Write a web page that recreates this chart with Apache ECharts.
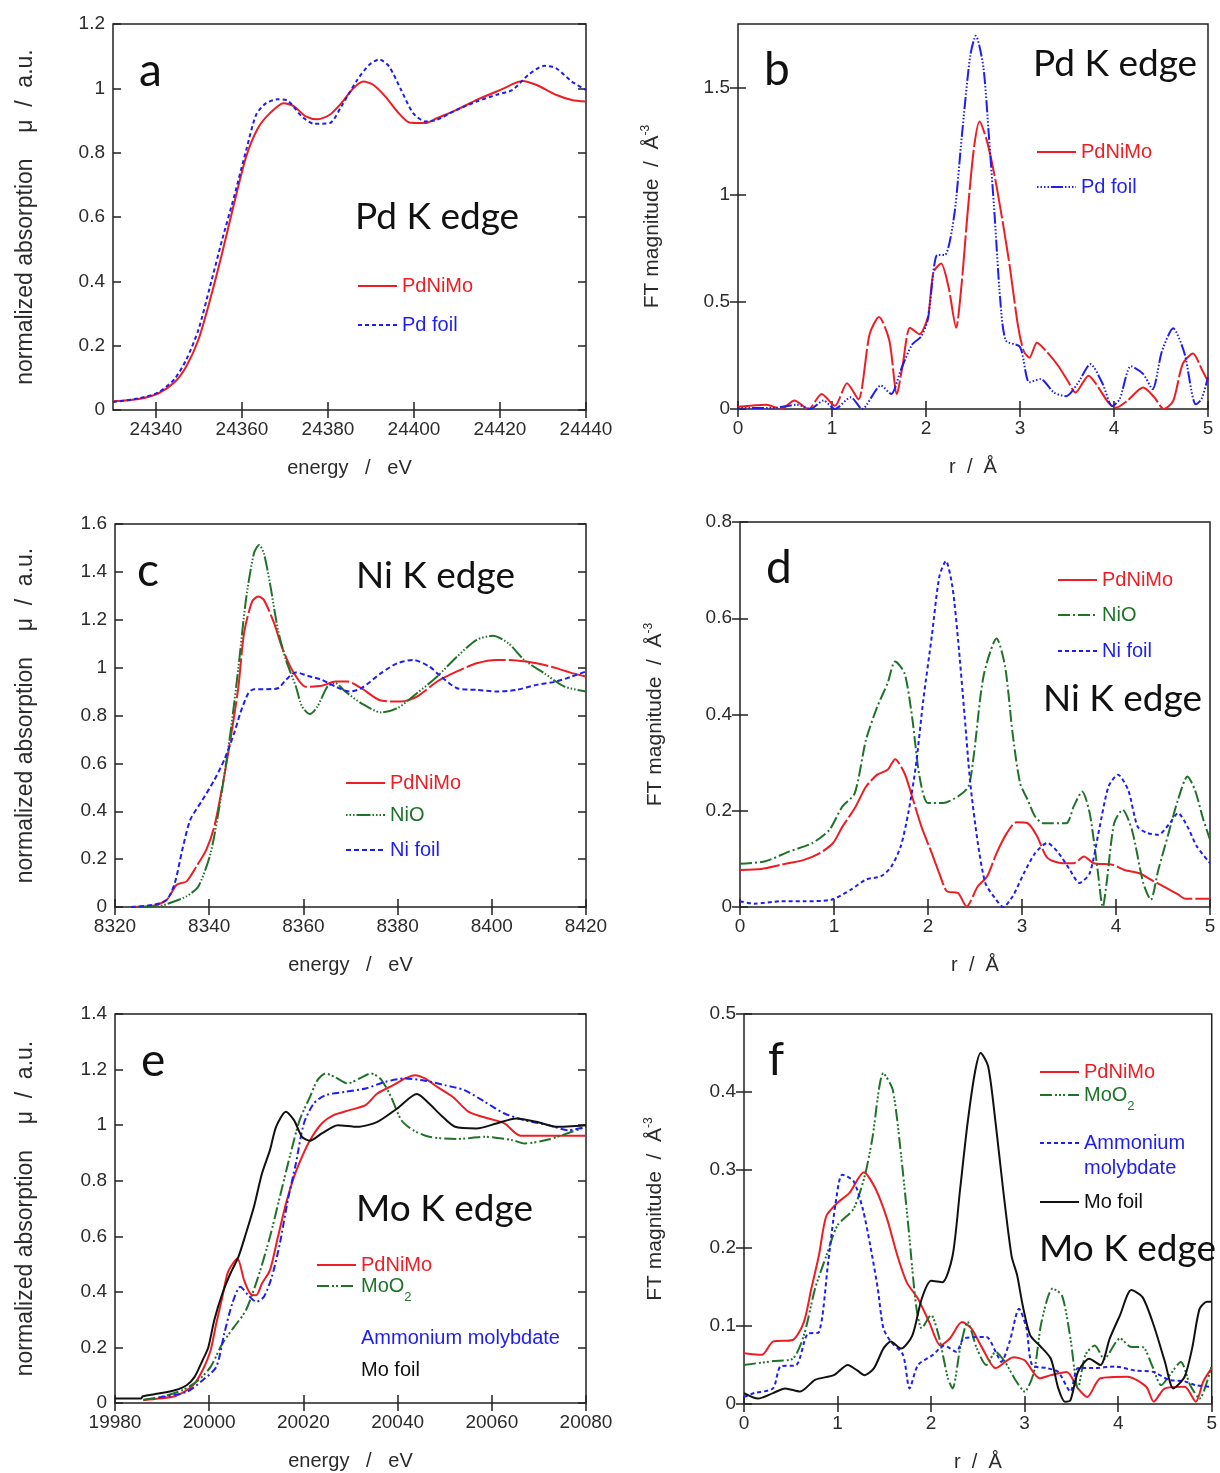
<!DOCTYPE html>
<html>
<head>
<meta charset="utf-8">
<title>Pd / Ni / Mo K edge XANES and FT</title>
<script src="https://cdn.jsdelivr.net/npm/echarts@6/dist/echarts.min.js"></script>
<style>
  html, body { margin: 0; padding: 0; background: #fff; }
  #chart { width: 1220px; height: 1473px; }
</style>
</head>
<body>
<div id="chart"></div>
<script>
// ---- tick values ----
const aXTicks = [24340, 24360, 24380, 24400, 24420, 24440];
const aYTicks = [0, 0.2, 0.4, 0.6, 0.8, 1, 1.2];
const cXTicks = [8320, 8340, 8360, 8380, 8400, 8420];
const cYTicks = [0, 0.2, 0.4, 0.6, 0.8, 1, 1.2, 1.4, 1.6];
const eXTicks = [19980, 20000, 20020, 20040, 20060, 20080];
const eYTicks = [0, 0.2, 0.4, 0.6, 0.8, 1, 1.2, 1.4];
const rTicks = [0, 1, 2, 3, 4, 5];
const bYTicks = [0, 0.5, 1, 1.5];
const dYTicks = [0, 0.2, 0.4, 0.6, 0.8];
const fYTicks = [0, 0.1, 0.2, 0.3, 0.4, 0.5];

// ---- a: Pd K edge XANES ----
const aPdNiMo = [[24330,0.027],[24336,0.034],[24340.6,0.052],[24344.3,0.086],[24347.1,0.137],[24349.9,0.22],[24352.6,0.344],[24355.4,0.489],[24358.2,0.644],[24361,0.789],[24363.7,0.876],[24366.5,0.923],[24369.7,0.954],[24372.1,0.944],[24374.8,0.913],[24377.6,0.904],[24380.4,0.918],[24383.1,0.954],[24385.9,1.0],[24388.2,1.021],[24390.5,1.011],[24393.3,0.975],[24396.1,0.928],[24398.9,0.894],[24402.6,0.892],[24405.3,0.907],[24409.9,0.933],[24414.6,0.964],[24420.1,0.995],[24425.2,1.023],[24428.4,1.011],[24433,0.98],[24436.7,0.964],[24440,0.959]];
const aPdFoil = [[24330,0.025],[24336,0.036],[24340.6,0.055],[24344.3,0.096],[24347.1,0.158],[24349.9,0.251],[24352.6,0.386],[24355.4,0.53],[24358.2,0.665],[24361,0.809],[24363.3,0.918],[24365.6,0.954],[24368.4,0.966],[24370.7,0.961],[24373.9,0.913],[24376.7,0.89],[24380.4,0.892],[24383.1,0.944],[24386.8,1.026],[24389.6,1.073],[24391.9,1.09],[24394.2,1.068],[24397,0.995],[24399.8,0.923],[24402.6,0.897],[24405.3,0.902],[24409.9,0.933],[24414.6,0.959],[24419.2,0.98],[24422.9,0.995],[24426.6,1.042],[24430.3,1.07],[24433,1.063],[24436.7,1.021],[24440,0.995]];

// ---- b: Pd K edge FT ----
const bPdNiMo = [[0,0.01],[0.3,0.02],[0.46,0],[0.6,0.04],[0.75,0],[0.89,0.07],[1.03,0.015],[1.16,0.12],[1.28,0.045],[1.4,0.35],[1.5,0.43],[1.61,0.32],[1.69,0.07],[1.75,0.2],[1.83,0.38],[1.93,0.35],[2.02,0.43],[2.08,0.64],[2.16,0.68],[2.24,0.57],[2.32,0.38],[2.38,0.59],[2.44,0.905],[2.51,1.22],[2.57,1.344],[2.65,1.25],[2.73,1.09],[2.81,0.89],[2.89,0.67],[2.98,0.385],[3.04,0.27],[3.1,0.24],[3.18,0.31],[3.28,0.27],[3.41,0.2],[3.51,0.13],[3.59,0.077],[3.73,0.156],[3.81,0.117],[3.94,0.03],[4.02,0.006],[4.14,0.038],[4.31,0.1],[4.43,0.054],[4.53,0],[4.63,0.038],[4.73,0.21],[4.84,0.26],[4.94,0.18],[5,0.13]];
const bPdFoil = [[0,0.005],[0.38,0.005],[0.63,0.02],[0.77,0],[0.91,0.04],[1.03,0],[1.2,0.055],[1.32,0],[1.52,0.11],[1.63,0.07],[1.73,0.18],[1.85,0.3],[1.95,0.34],[2.02,0.42],[2.12,0.72],[2.2,0.72],[2.3,0.905],[2.38,1.27],[2.47,1.65],[2.53,1.745],[2.61,1.6],[2.67,1.27],[2.73,0.905],[2.79,0.51],[2.85,0.32],[3.0,0.29],[3.1,0.125],[3.22,0.14],[3.36,0.077],[3.49,0.06],[3.61,0.117],[3.75,0.21],[3.88,0.117],[3.98,0.014],[4.06,0.046],[4.18,0.2],[4.31,0.164],[4.41,0.093],[4.51,0.27],[4.63,0.377],[4.75,0.26],[4.87,0.022],[4.93,0.046],[5,0.148]];

// ---- c: Ni K edge XANES ----
const cPdNiMo = [[8323.4,0],[8328.4,0.006],[8331,0.03],[8333.1,0.093],[8335.2,0.107],[8337.3,0.17],[8339.4,0.24],[8341.1,0.337],[8342.8,0.504],[8344.5,0.698],[8346.2,0.92],[8347.4,1.144],[8349.1,1.276],[8350.4,1.297],[8351.6,1.283],[8353.8,1.185],[8355.4,1.088],[8357.6,0.99],[8360.5,0.92],[8363.9,0.924],[8366.8,0.942],[8369.4,0.942],[8372.3,0.914],[8376.1,0.865],[8380.8,0.858],[8384.1,0.879],[8388.4,0.942],[8392.6,0.984],[8396.8,1.018],[8401,1.032],[8405.2,1.03],[8409.5,1.018],[8413.7,0.998],[8417,0.977],[8420,0.963]];
const cNiO = [[8323.4,0],[8329.3,0.003],[8332.7,0.024],[8335.2,0.045],[8337.7,0.086],[8340.3,0.225],[8342.4,0.448],[8344.5,0.726],[8346.2,1.0],[8347.8,1.283],[8349.5,1.478],[8350.6,1.512],[8351.6,1.478],[8352.9,1.352],[8354.6,1.158],[8356.3,1.032],[8358.4,0.921],[8359.7,0.838],[8361.4,0.806],[8363,0.838],[8365.1,0.921],[8366.8,0.935],[8368.9,0.9],[8372.3,0.851],[8376.5,0.813],[8379.9,0.83],[8384.1,0.893],[8388.4,0.963],[8392.6,1.046],[8396.8,1.116],[8400.2,1.133],[8403.5,1.102],[8406.9,1.032],[8411.1,0.977],[8415.4,0.921],[8420,0.9]];
const cNiFoil = [[8323.4,0],[8328.4,0.01],[8331,0.03],[8332.7,0.1],[8334.3,0.24],[8336,0.365],[8338.6,0.448],[8341.1,0.531],[8343.2,0.615],[8345.3,0.726],[8346.6,0.81],[8348.3,0.893],[8349.5,0.91],[8352.1,0.91],[8354.6,0.914],[8356.3,0.949],[8358.4,0.98],[8361.4,0.963],[8363.9,0.949],[8366.8,0.921],[8369.8,0.9],[8372.3,0.914],[8376.5,0.977],[8379.9,1.018],[8383.3,1.032],[8386.7,1.005],[8389.2,0.963],[8392.6,0.914],[8396.8,0.907],[8401,0.9],[8405.2,0.907],[8409.5,0.928],[8413.7,0.942],[8417,0.963],[8420,0.984]];

// ---- d: Ni K edge FT ----
const dPdNiMo = [[0,0.077],[0.23,0.079],[0.44,0.088],[0.68,0.098],[0.85,0.112],[0.99,0.133],[1.09,0.167],[1.22,0.205],[1.34,0.25],[1.46,0.275],[1.57,0.285],[1.65,0.307],[1.75,0.278],[1.83,0.23],[1.93,0.167],[2.04,0.112],[2.12,0.07],[2.2,0.033],[2.32,0.029],[2.41,0.001],[2.53,0.043],[2.63,0.064],[2.73,0.112],[2.84,0.154],[2.94,0.176],[3.06,0.174],[3.16,0.147],[3.27,0.102],[3.43,0.091],[3.55,0.091],[3.66,0.105],[3.76,0.091],[3.96,0.088],[4.09,0.077],[4.25,0.07],[4.37,0.057],[4.54,0.039],[4.66,0.026],[4.74,0.017],[5,0.017]];
const dNiO = [[0,0.09],[0.27,0.095],[0.52,0.115],[0.77,0.133],[0.95,0.16],[1.09,0.209],[1.22,0.236],[1.34,0.347],[1.46,0.416],[1.57,0.465],[1.65,0.51],[1.75,0.486],[1.83,0.396],[1.91,0.271],[2.0,0.216],[2.16,0.216],[2.32,0.23],[2.43,0.25],[2.49,0.32],[2.59,0.479],[2.73,0.558],[2.82,0.5],[2.9,0.361],[2.98,0.257],[3.06,0.223],[3.14,0.188],[3.23,0.174],[3.47,0.174],[3.55,0.209],[3.64,0.24],[3.72,0.195],[3.8,0.084],[3.86,0],[3.9,0.05],[3.98,0.174],[4.07,0.202],[4.17,0.16],[4.29,0.05],[4.37,0.015],[4.45,0.077],[4.56,0.154],[4.66,0.223],[4.76,0.271],[4.84,0.243],[4.93,0.181],[5,0.14]];
const dNiFoil = [[0,0.012],[0.15,0.007],[0.44,0.012],[0.68,0.012],[0.97,0.015],[1.18,0.036],[1.34,0.057],[1.5,0.064],[1.61,0.084],[1.71,0.126],[1.79,0.195],[1.87,0.292],[1.95,0.43],[2.04,0.562],[2.12,0.686],[2.19,0.719],[2.26,0.665],[2.32,0.555],[2.39,0.396],[2.45,0.257],[2.53,0.133],[2.61,0.05],[2.71,0.019],[2.8,0],[2.9,0.022],[3.02,0.07],[3.14,0.112],[3.27,0.133],[3.39,0.112],[3.51,0.077],[3.61,0.05],[3.72,0.07],[3.82,0.16],[3.92,0.25],[4.02,0.275],[4.13,0.243],[4.23,0.167],[4.33,0.154],[4.45,0.15],[4.56,0.171],[4.66,0.195],[4.76,0.167],[4.86,0.126],[5,0.091]];

// ---- e: Mo K edge XANES ----
const ePdNiMo = [[19986,0.01],[19989.3,0.016],[19992.7,0.024],[19995.2,0.046],[19996.9,0.07],[19998.6,0.118],[20000.3,0.19],[20001.5,0.286],[20002.8,0.382],[20004,0.472],[20006,0.52],[20007.4,0.442],[20008.7,0.394],[20010,0.388],[20011.2,0.43],[20012.9,0.478],[20014.6,0.598],[20016.3,0.718],[20018,0.814],[20019.7,0.886],[20021.4,0.946],[20023.9,1.006],[20026.4,1.036],[20029.8,1.054],[20033.2,1.072],[20035.7,1.114],[20039.1,1.144],[20041.6,1.168],[20043.7,1.18],[20045.8,1.168],[20048.4,1.138],[20051.7,1.102],[20055.1,1.048],[20059.3,1.024],[20062.7,1.006],[20066.1,0.962],[20073.7,0.962],[20080,0.962]];
const eMoO2 = [[19986,0.012],[19989.3,0.02],[19994.3,0.046],[19997.7,0.082],[20000.3,0.13],[20002.8,0.214],[20005.3,0.274],[20007.8,0.334],[20010.4,0.454],[20012.9,0.598],[20015,0.742],[20017.1,0.886],[20019.2,1.018],[20021.4,1.102],[20023,1.162],[20024.7,1.186],[20026.8,1.172],[20029.4,1.15],[20031.9,1.168],[20034.4,1.186],[20036.5,1.164],[20038.6,1.102],[20040.8,1.018],[20043.3,0.982],[20046.7,0.958],[20052.6,0.95],[20058.5,0.958],[20064.4,0.946],[20066.9,0.934],[20072,0.948],[20077,0.976],[20080,0.994]];
const eAmmonium = [[19989.3,0.02],[19995.2,0.04],[19998.6,0.082],[20001.5,0.13],[20003.2,0.25],[20004.9,0.358],[20006.6,0.418],[20008.3,0.388],[20010,0.364],[20011.6,0.382],[20013.3,0.454],[20015,0.574],[20016.7,0.73],[20018.4,0.862],[20020.1,1.006],[20022.2,1.078],[20024.7,1.108],[20028.9,1.12],[20033.2,1.132],[20037.4,1.156],[20041.6,1.168],[20045.8,1.16],[20050,1.144],[20054.2,1.126],[20058.5,1.084],[20062.7,1.042],[20066.9,1.018],[20072,1.0],[20076.2,0.982],[20080,0.994]];
const eMoFoil = [[19980,0.016],[19985.5,0.016],[19985.9,0.024],[19989.3,0.034],[19992.7,0.046],[19995.2,0.064],[19996.9,0.094],[19998.6,0.154],[19999.8,0.2],[20001.1,0.3],[20002.8,0.394],[20004.5,0.466],[20006.2,0.526],[20007.8,0.61],[20009.5,0.706],[20011.2,0.826],[20012.9,0.91],[20014.2,0.994],[20016.3,1.048],[20018,1.018],[20019.7,0.958],[20021.4,0.944],[20023.9,0.97],[20027.3,1.0],[20031.5,0.994],[20035.7,1.012],[20039.9,1.06],[20044.1,1.112],[20046.7,1.078],[20049.2,1.036],[20052.2,0.994],[20056.8,0.988],[20061,1.006],[20065.2,1.024],[20069.5,1.012],[20073.7,0.994],[20080,1.0]];

// ---- f: Mo K edge FT ----
const fPdNiMo = [[0,0.065],[0.19,0.063],[0.31,0.08],[0.52,0.082],[0.64,0.105],[0.72,0.148],[0.8,0.19],[0.88,0.241],[1.0,0.258],[1.13,0.271],[1.28,0.297],[1.41,0.275],[1.53,0.237],[1.64,0.19],[1.74,0.156],[1.86,0.135],[1.98,0.105],[2.1,0.075],[2.2,0.084],[2.33,0.105],[2.43,0.097],[2.55,0.071],[2.69,0.046],[2.88,0.06],[3.0,0.056],[3.16,0.033],[3.28,0.037],[3.45,0.041],[3.57,0.02],[3.67,0.009],[3.81,0.033],[4.1,0.035],[4.3,0.022],[4.38,0.003],[4.5,0.02],[4.71,0.022],[4.83,0.003],[4.91,0.029],[5,0.046]];
const fMoO2 = [[0,0.05],[0.31,0.055],[0.52,0.058],[0.64,0.088],[0.76,0.148],[0.88,0.19],[1.0,0.229],[1.17,0.25],[1.29,0.292],[1.37,0.339],[1.49,0.424],[1.59,0.403],[1.68,0.318],[1.76,0.224],[1.84,0.126],[1.9,0.097],[2.0,0.114],[2.08,0.088],[2.18,0.033],[2.23,0.02],[2.31,0.071],[2.39,0.105],[2.49,0.071],[2.59,0.05],[2.69,0.067],[2.79,0.054],[2.9,0.031],[3.0,0.016],[3.1,0.041],[3.18,0.105],[3.3,0.148],[3.4,0.139],[3.49,0.084],[3.57,0.02],[3.65,0.063],[3.75,0.075],[3.85,0.058],[4.02,0.084],[4.14,0.073],[4.26,0.073],[4.36,0.05],[4.46,0.024],[4.54,0.035],[4.67,0.054],[4.77,0.024],[4.87,0.007],[5,0.05]];
const fAmmonium = [[0,0.009],[0.11,0.014],[0.31,0.02],[0.39,0.048],[0.56,0.05],[0.68,0.09],[0.8,0.092],[0.9,0.182],[0.98,0.258],[1.05,0.294],[1.17,0.286],[1.27,0.25],[1.35,0.203],[1.43,0.148],[1.49,0.097],[1.57,0.08],[1.7,0.063],[1.77,0.02],[1.86,0.05],[2.02,0.063],[2.14,0.075],[2.27,0.067],[2.35,0.084],[2.59,0.086],[2.69,0.067],[2.75,0.054],[2.84,0.08],[2.94,0.122],[3.02,0.097],[3.08,0.05],[3.24,0.046],[3.36,0.041],[3.49,0.016],[3.57,0.046],[3.73,0.046],[3.97,0.048],[4.18,0.043],[4.38,0.041],[4.54,0.031],[4.71,0.029],[4.83,0.024],[5,0.022]];
const fMoFoil = [[0,0.014],[0.15,0.007],[0.31,0.014],[0.44,0.02],[0.6,0.016],[0.76,0.031],[0.96,0.037],[1.11,0.05],[1.21,0.043],[1.29,0.037],[1.39,0.046],[1.49,0.071],[1.57,0.08],[1.68,0.071],[1.8,0.088],[1.9,0.135],[2.0,0.158],[2.12,0.156],[2.23,0.19],[2.31,0.275],[2.39,0.36],[2.47,0.426],[2.53,0.45],[2.61,0.433],[2.69,0.36],[2.77,0.275],[2.86,0.19],[2.92,0.165],[2.98,0.126],[3.06,0.088],[3.16,0.075],[3.28,0.058],[3.36,0.02],[3.43,0.003],[3.49,0.005],[3.57,0.041],[3.69,0.058],[3.81,0.05],[3.91,0.084],[4.02,0.114],[4.14,0.146],[4.26,0.137],[4.38,0.101],[4.5,0.054],[4.59,0.02],[4.71,0.035],[4.79,0.071],[4.87,0.122],[4.95,0.131],[5,0.131]];

const RED = '#ee1d23', BLUE = '#1e1ef2', GREEN = '#1f7328', BLACK = '#111111';
const SANS = "'Liberation Sans', Arial, sans-serif";
const TXT = '#2b2b2b';
const muName = 'normalized absorption    \u03bc  /  a.u.';
const ftName = 'FT magnitude  /  \u00c5{sup|-3}';

const panels = [
  { grid: { left: 113, top: 24, width: 473, height: 386 }, x: [24330, 24440], y: [0, 1.2], xTicks: aXTicks, yTicks: aYTicks, xName: 'energy   /   eV', yName: muName, yGap: 76, yFont: 23 },
  { grid: { left: 738, top: 24, width: 470, height: 385 }, x: [0, 5], y: [0, 1.8], xTicks: rTicks, yTicks: bYTicks, xName: 'r  /  \u00c5', yName: ftName, yGap: 74, yFont: 21 },
  { grid: { left: 115, top: 524, width: 471, height: 383 }, x: [8320, 8420], y: [0, 1.6], xTicks: cXTicks, yTicks: cYTicks, xName: 'energy   /   eV', yName: muName, yGap: 78, yFont: 23 },
  { grid: { left: 740, top: 522, width: 470, height: 385 }, x: [0, 5], y: [0, 0.8], xTicks: rTicks, yTicks: dYTicks, xName: 'r  /  \u00c5', yName: ftName, yGap: 73, yFont: 21 },
  { grid: { left: 115, top: 1014, width: 471, height: 389 }, x: [19980, 20080], y: [0, 1.4], xTicks: eXTicks, yTicks: eYTicks, xName: 'energy   /   eV', yName: muName, yGap: 78, yFont: 23 },
  { grid: { left: 744, top: 1014, width: 473, height: 392 }, x: [0, 5], y: [0, 0.5], xTicks: rTicks, yTicks: fYTicks, xName: 'r  /  \u00c5', yName: ftName, yGap: 77, yFont: 21 }
];

// series: panel, name, data, colour, dash, legend position / label
const lines = [
  { p: 0, name: 'a:PdNiMo', data: aPdNiMo, color: RED, dash: 'solid', lx: 357, ly: 286, label: 'PdNiMo' },
  { p: 0, name: 'a:Pd foil', data: aPdFoil, color: BLUE, dash: [4, 3], lx: 357, ly: 325, label: 'Pd foil' },
  { p: 1, name: 'b:PdNiMo', data: bPdNiMo, color: RED, dash: [40, 3], lx: 1036, ly: 152, label: 'PdNiMo' },
  { p: 1, name: 'b:Pd foil', data: bPdFoil, color: BLUE, dash: [1.5, 2, 1.5, 2, 1.5, 2, 1.5, 2, 12, 2], lx: 1036, ly: 187, label: 'Pd foil' },
  { p: 2, name: 'c:PdNiMo', data: cPdNiMo, color: RED, dash: [40, 3], lx: 345, ly: 783, label: 'PdNiMo' },
  { p: 2, name: 'c:NiO', data: cNiO, color: GREEN, dash: [1.5, 2, 1.5, 2, 1.5, 2, 14, 2], lx: 345, ly: 815, label: 'NiO' },
  { p: 2, name: 'c:Ni foil', data: cNiFoil, color: BLUE, dash: [5, 3], lx: 345, ly: 850, label: 'Ni foil' },
  { p: 3, name: 'd:PdNiMo', data: dPdNiMo, color: RED, dash: [40, 3], lx: 1057, ly: 580, label: 'PdNiMo' },
  { p: 3, name: 'd:NiO', data: dNiO, color: GREEN, dash: [12, 3, 2, 3], lx: 1057, ly: 615, label: 'NiO' },
  { p: 3, name: 'd:Ni foil', data: dNiFoil, color: BLUE, dash: [4, 3], lx: 1057, ly: 651, label: 'Ni foil' },
  { p: 4, name: 'e:PdNiMo', data: ePdNiMo, color: RED, dash: 'solid', lx: 316, ly: 1265, label: 'PdNiMo' },
  { p: 4, name: 'e:MoO2', data: eMoO2, color: GREEN, dash: [12, 3, 2, 2, 2, 3], lx: 316, ly: 1293, label: 'MoO{sub|2}' },
  { p: 4, name: 'e:Ammonium molybdate', data: eAmmonium, color: BLUE, dash: [7, 3, 2, 3], lx: 316, ly: 1338, label: 'Ammonium molybdate', noIcon: true },
  { p: 4, name: 'e:Mo foil', data: eMoFoil, color: BLACK, dash: 'solid', lx: 316, ly: 1370, label: 'Mo foil', noIcon: true },
  { p: 5, name: 'f:PdNiMo', data: fPdNiMo, color: RED, dash: 'solid', lx: 1039, ly: 1072, label: 'PdNiMo' },
  { p: 5, name: 'f:MoO2', data: fMoO2, color: GREEN, dash: [12, 3, 2, 2, 2, 2, 2, 3], lx: 1039, ly: 1102, label: 'MoO{sub|2}' },
  { p: 5, name: 'f:Ammonium molybdate', data: fAmmonium, color: BLUE, dash: [4, 3], lx: 1039, ly: 1143, label: 'Ammonium\nmolybdate', twoLine: true },
  { p: 5, name: 'f:Mo foil', data: fMoFoil, color: BLACK, dash: 'solid', lx: 1039, ly: 1202, label: 'Mo foil' }
];

const tickStyle = { color: '#222', width: 1.5 };
const grid = [], xAxis = [], yAxis = [];
panels.forEach((p, i) => {
  grid.push(Object.assign({ show: true, borderColor: '#222', borderWidth: 1.5, backgroundColor: 'transparent' }, p.grid));
  xAxis.push({
    type: 'value', gridIndex: i, min: p.x[0], max: p.x[1], position: 'bottom',
    splitLine: { show: false }, axisLine: { show: false },
    axisTick: { inside: true, length: 8, lineStyle: tickStyle, customValues: p.xTicks },
    axisLabel: { customValues: p.xTicks, formatter: v => String(v), color: TXT, fontSize: 19, fontFamily: SANS, margin: 10 },
    name: p.xName, nameLocation: 'middle', nameGap: 48,
    nameTextStyle: { color: TXT, fontSize: 20, fontFamily: SANS }
  });
  xAxis.push({
    type: 'value', gridIndex: i, min: p.x[0], max: p.x[1], position: 'top',
    splitLine: { show: false }, axisLine: { show: false }, axisLabel: { show: false },
    axisTick: { inside: true, length: 8, lineStyle: tickStyle, customValues: p.xTicks }
  });
  yAxis.push({
    type: 'value', gridIndex: i, min: p.y[0], max: p.y[1], position: 'left',
    splitLine: { show: false }, axisLine: { show: false },
    axisTick: { inside: true, length: 8, lineStyle: tickStyle, customValues: p.yTicks },
    axisLabel: { customValues: p.yTicks, formatter: v => String(v), color: TXT, fontSize: 19, fontFamily: SANS, margin: 8 },
    name: p.yName, nameLocation: 'middle', nameGap: p.yGap,
    nameTextStyle: { color: TXT, fontSize: p.yFont, fontFamily: SANS,
      rich: { sup: { fontSize: 12, fontFamily: SANS, color: TXT, padding: [0, 0, 12, 0] } } }
  });
  yAxis.push({
    type: 'value', gridIndex: i, min: p.y[0], max: p.y[1], position: 'right',
    splitLine: { show: false }, axisLine: { show: false }, axisLabel: { show: false },
    axisTick: { inside: true, length: 8, lineStyle: tickStyle, customValues: p.yTicks }
  });
});

const series = lines.map(s => ({
  type: 'line', name: s.name, xAxisIndex: 2 * s.p, yAxisIndex: 2 * s.p,
  data: s.data, symbol: 'none', smooth: 0.25,
  lineStyle: { color: s.color, width: 2, type: s.dash },
  itemStyle: { color: s.color },
  emphasis: { disabled: true }
}));

// one legend per entry so each can sit where it sits in the figure
const legend = lines.map(s => {
  const textStyle = {
    color: s.color, fontSize: 20, fontFamily: SANS, lineHeight: 22,
    rich: { sub: { fontSize: 13, fontFamily: SANS, color: s.color, padding: [22, 0, 0, 0] } }
  };
  let top = s.ly - 11;
  if (s.twoLine) {
    textStyle.lineHeight = 25;
    textStyle.padding = [25, 0, 0, 0];
    top = s.ly - 37.5;
  }
  if (s.label.indexOf('{sub') >= 0) top = s.ly - 11 - 7;
  return {
    data: [{ name: s.name, itemStyle: { opacity: 0 }, lineStyle: s.noIcon ? { opacity: 0 } : undefined }],
    left: s.lx, top: top, padding: 0, itemWidth: 39, itemHeight: 22,
    selectedMode: false, formatter: () => s.label, textStyle: textStyle
  };
});

const bigText = (txt, x, y, size) => ({
  type: 'text', x: x, y: y,
  style: { text: txt, fill: '#111', font: size + 'px Lato, sans-serif', align: 'left', verticalAlign: 'middle' }
});
const graphic = [
  bigText('a', 139, 71, 46), bigText('Pd K edge', 355, 217, 37),
  bigText('b', 764, 70, 46), bigText('Pd K edge', 1033, 64, 37),
  bigText('c', 137, 571, 46), bigText('Ni K edge', 356, 576, 37),
  bigText('d', 766, 568, 46), bigText('Ni K edge', 1043, 699, 37),
  bigText('e', 141, 1061, 46), bigText('Mo K edge', 356, 1209, 37),
  bigText('f', 768, 1060, 46), bigText('Mo K edge', 1039, 1249, 37)
];

const chart = echarts.init(document.getElementById('chart'), null, { renderer: 'canvas' });
chart.setOption({
  animation: false,
  backgroundColor: '#fff',
  grid: grid, xAxis: xAxis, yAxis: yAxis,
  legend: legend, series: series, graphic: graphic
});
window.addEventListener('resize', () => chart.resize());
</script>
</body>
</html>
